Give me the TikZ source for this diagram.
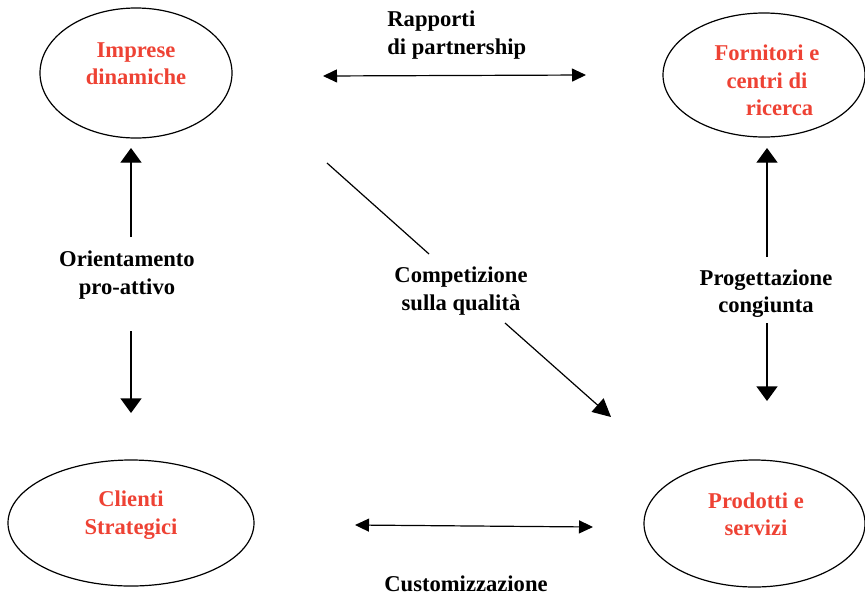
\documentclass[tikz,border=0pt]{standalone}
\usepackage{fontspec}
\setmainfont{Liberation Serif}
\usetikzlibrary{arrows.meta, shapes.geometric}
\definecolor{rosso}{RGB}{238,66,52}

\begin{document}
\begin{tikzpicture}[x=0.5pt,y=-0.5pt,
   oval/.style={draw,ellipse,line width=0.6pt,inner sep=0pt,outer sep=0pt},
   actor/.style={text=rosso,font=\fontsize{11.3}{13.7}\selectfont\bfseries,align=center,inner sep=0pt},
   tag/.style={font=\fontsize{11.3}{13.7}\selectfont\bfseries,align=center,inner sep=0pt},
   harrow/.style={line width=0.6pt,{Triangle[length=7pt,width=6.5pt]}-{Triangle[length=7pt,width=6.5pt]}},
   varrow/.style={line width=0.6pt,-{Triangle[length=7.3pt,width=10.5pt]}},
   darrow/.style={line width=0.6pt,-{Triangle[length=9pt,width=9pt]}}
  ]
\useasboundingbox (0,0) rectangle (865,595);

 % ellipses
 \node[oval,minimum width=96pt,minimum height=65pt] (imp) at (136,73) {};
 \node[oval,minimum width=101pt,minimum height=62pt] (forn) at (764,75) {};
 \node[oval,minimum width=123pt,minimum height=63pt] (cli) at (131,523) {};
 \node[oval,minimum width=110.5pt,minimum height=63.5pt] (prod) at (754.5,523.5) {};

 \node[actor] (impt) at (136,63.5) {Imprese\\dinamiche};
 \node[actor] (fornt) at (767,80.5) {Fornitori e\\centri di\\\hspace*{1.1em}ricerca};
 \node[actor] (clit) at (131,515) {Clienti\\Strategici};
 \node[actor] (prodt) at (756,514.5) {Prodotti e\\servizi};

 % labels
 \node[tag,align=left,anchor=west] (rap) at (387,35) {Rapporti\\di partnership};
 \node[tag] (ori) at (127,275) {Orientamento\\pro-attivo};
 \node[tag] (com) at (461,291) {Competizione\\sulla qualit\`a};
 \node[tag] (pro) at (766,293.5) {Progettazione\\congiunta};
 \node[tag] (cus) at (466,583.5) {Customizzazione};

 % connectors
 \coordinate (rpL) at (323,76);  \coordinate (rpR) at (586,75);
 \coordinate (orA) at (131,237); \coordinate (orB) at (131,148);
 \coordinate (orC) at (131,331); \coordinate (orD) at (131,413);
 \coordinate (pgA) at (767,257); \coordinate (pgB) at (767,148);
 \coordinate (pgC) at (767,323); \coordinate (pgD) at (767,401);
 \coordinate (cqA) at (327,163); \coordinate (cqM) at (429,254);
 \coordinate (cqN) at (505,323); \coordinate (cqB) at (611,417);
 \coordinate (cuL) at (355,525); \coordinate (cuR) at (593,527);

 \draw[harrow] (rpL) -- (rpR);
 \draw[varrow] (orA) -- (orB);
 \draw[varrow] (orC) -- (orD);
 \draw[varrow] (pgA) -- (pgB);
 \draw[varrow] (pgC) -- (pgD);
 \draw[line width=0.6pt] (cqA) -- (cqM);
 \draw[darrow] (cqN) -- (cqB);
 \draw[harrow] (cuL) -- (cuR);

\end{tikzpicture}
\end{document}
